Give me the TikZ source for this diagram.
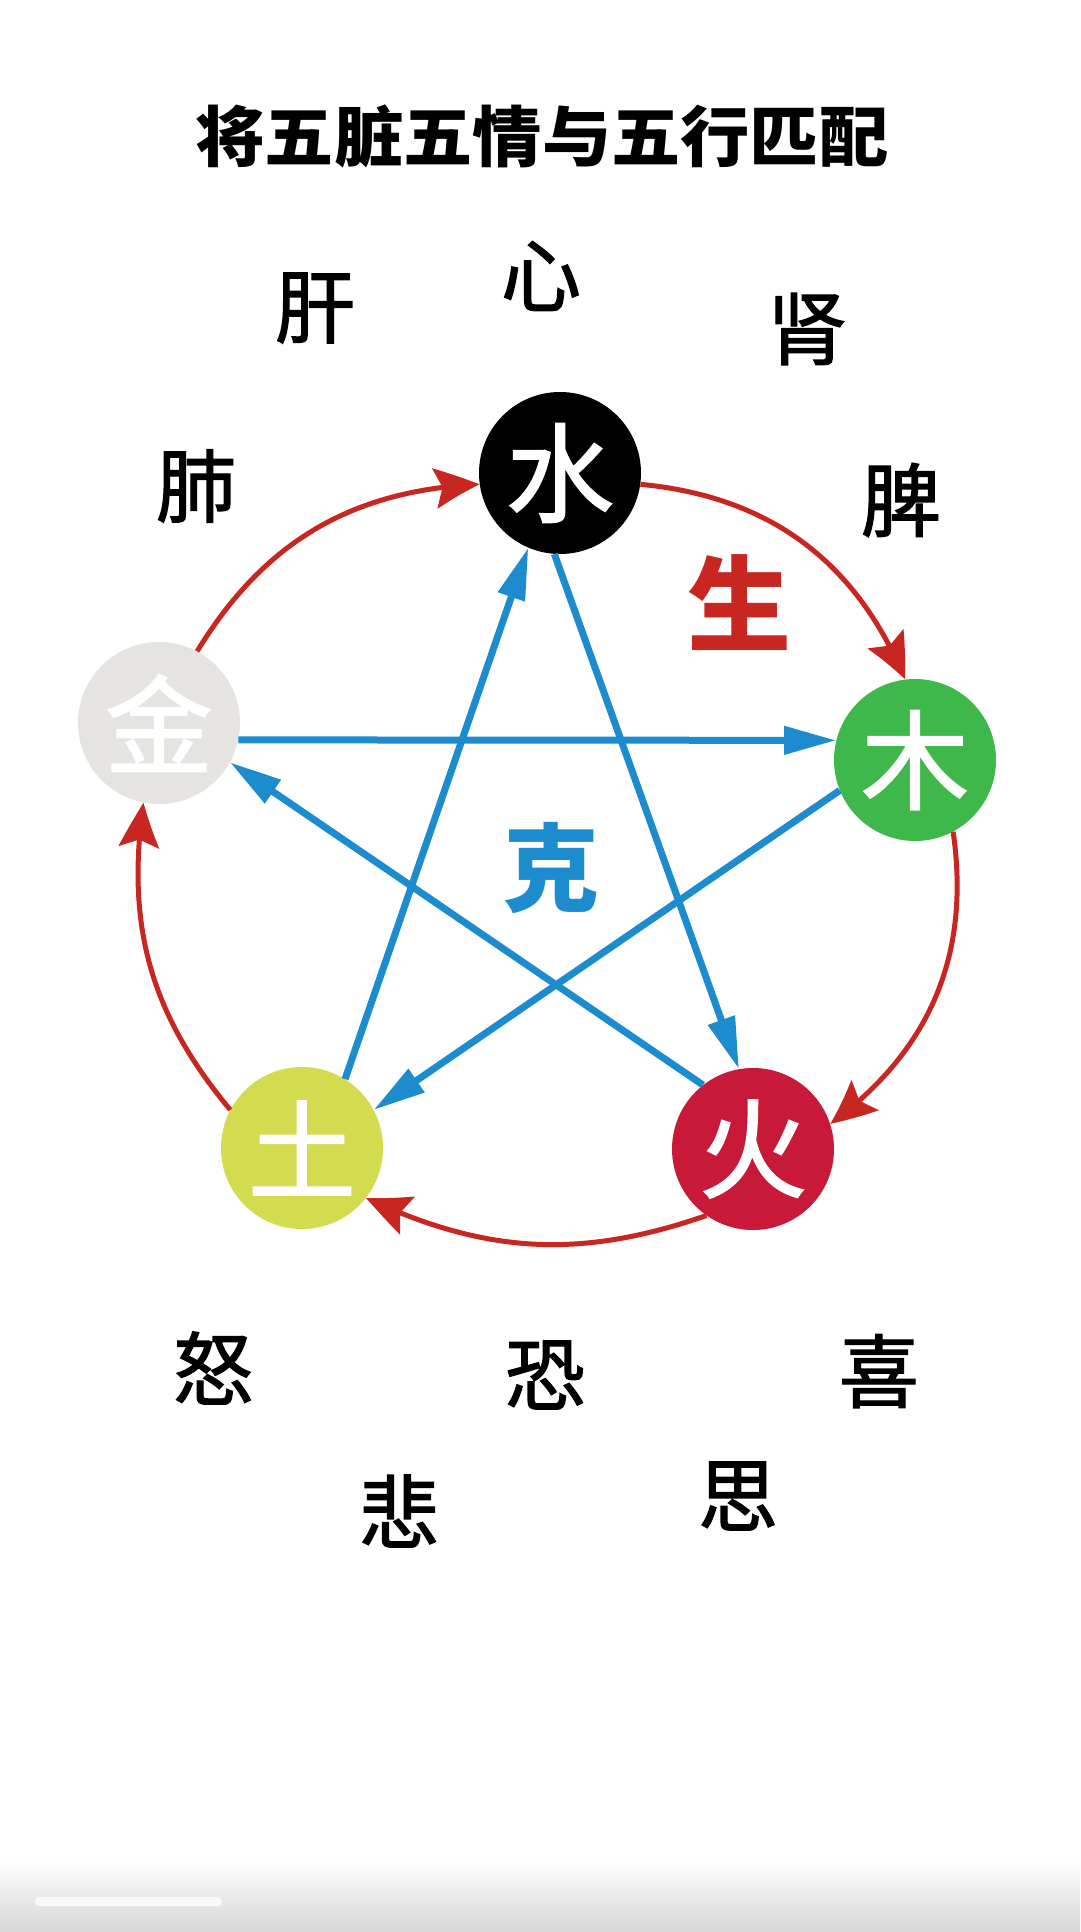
\documentclass[tikz,border=0pt]{standalone}
\usepackage{fontspec}
\usetikzlibrary{arrows.meta,bending}
\newfontfamily\cjk{Noto Sans CJK SC}
\newfontfamily\cjkm{Noto Sans CJK SC}[FakeBold=1.6]
\newcommand\fsz[1]{\fontsize{#1}{#1}\selectfont}
\definecolor{kered}{RGB}{200,38,32}
\definecolor{keblue}{RGB}{28,140,206}
\definecolor{shuic}{RGB}{0,0,0}
\definecolor{jinc}{RGB}{229,228,224}
\definecolor{muc}{RGB}{62,184,74}
\definecolor{tuc}{RGB}{211,219,78}
\definecolor{huoc}{RGB}{200,26,56}
\definecolor{bargray}{RGB}{214,214,214}
\tikzset{
  elem/.style={circle, minimum size=162pt, inner sep=0pt, text=white, font=\cjkm\fsz{108pt}},
  organ/.style={font=\cjkm\fsz{80pt}, text=black, inner sep=0pt},
  redarc/.style={draw=kered, line width=5pt, -{Stealth[length=46pt,width=40pt,inset=8pt,bend]}},
  bluearr/.style={draw=keblue, line width=7pt, -{Triangle[length=52pt,width=27pt]}},
}
\begin{document}
\begin{tikzpicture}[x=1pt,y=-1pt]
\useasboundingbox (0,0) rectangle (1080,1932);
\fill[white] (0,0) rectangle (1080,1932);
% bottom bar of the screenshot
\shade[top color=white, bottom color=bargray] (0,1860) rectangle (1080,1932);
\fill[white!95!gray, rounded corners=4pt] (35,1897) rectangle (222,1906);

% title
\node[font=\cjk\bfseries\fsz{66pt}, xscale=1.05, inner sep=0pt] (title) at (542,136) {将五脏五情与五行匹配};

% five elements
\node[elem, fill=shuic] (shui) at (560,473) {水};
\node[elem, fill=jinc] (jin) at (159,723) {金};
\node[elem, fill=muc] (mu) at (915,760) {木};
\node[elem, fill=tuc] (tu) at (302,1148) {土};
\node[elem, fill=huoc] (huo) at (753,1149) {火};

% generating cycle (red)
\draw[redarc] (jin.62) to[bend left=28] (shui.188);
\draw[redarc] (shui.-8) to[bend left=31] (mu.97);
\draw[redarc] (mu.-62) to[bend left=31] (huo.18);
\draw[redarc] (huo.-125) to[bend left=22] (tu.-38);
\draw[redarc] (tu.152) to[bend left=24] (jin.259);

% controlling cycle (blue)
\draw[bluearr] (jin.-12.5) -- (mu.166);
\draw[bluearr] (mu.202) -- (tu.28);
\draw[bluearr] (tu.58.4) -- (shui.247.4);
\draw[bluearr] (shui.266) -- (huo.100.6);
\draw[bluearr] (huo.128.9) -- (jin.-29);

% centre labels
\node[font=\cjk\bfseries\fsz{104pt}, text=kered, inner sep=0pt] (sheng) at (739,603) {生};
\node[font=\cjk\bfseries\fsz{96pt}, text=keblue, inner sep=0pt] (ke) at (551,868) {克};

% organs
\node[organ] (gan) at (315,308) {肝};
\node[organ] (xin) at (541,276) {心};
\node[organ] (shen) at (807,329) {肾};
\node[organ] (fei) at (196,486) {肺};
\node[organ] (pi) at (901,500) {脾};

% emotions
\node[organ] (nu) at (213,1368) {怒};
\node[organ] (kong) at (545,1375) {恐};
\node[organ] (xi) at (879,1371) {喜};
\node[organ] (bei) at (399,1511) {悲};
\node[organ] (si) at (738,1496) {思};
\end{tikzpicture}
\end{document}
